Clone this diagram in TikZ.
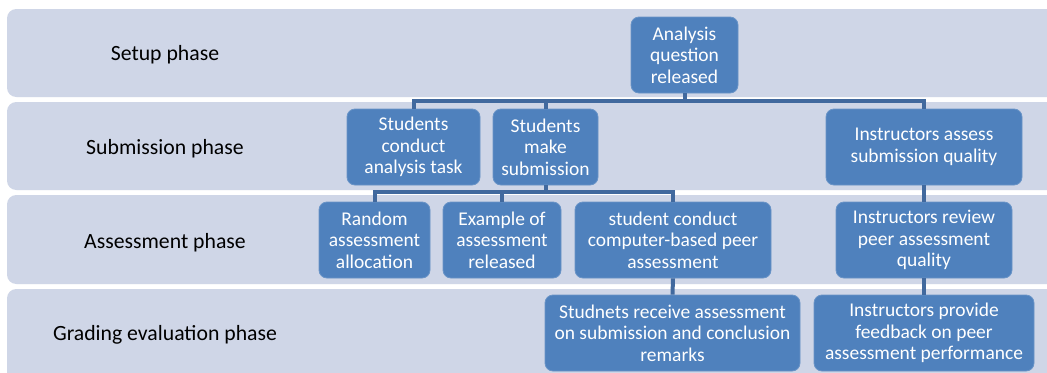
\documentclass[tikz,border=0pt]{standalone}
\usepackage{fontspec}
\setmainfont{Carlito}
\definecolor{bandc}{HTML}{CFD6E7}
\definecolor{boxc}{HTML}{4F81BD}
\definecolor{linec}{HTML}{41699E}
\tikzset{
  band/.style={fill=bandc, draw=none, rounded corners=7},
  phase/.style={font=\fontsize{16.3}{19}\selectfont, text=black},
  stepbox/.style={fill=boxc, draw=boxc!85!white, line width=0.6pt, rounded corners=6, text=white,
     font=\fontsize{14.6}{16.1}\selectfont, align=center, inner sep=0pt},
  conn/.style={draw=linec, line width=3pt}
}
\begin{document}
\begin{tikzpicture}[x=0.75pt,y=-0.75pt]
\useasboundingbox (0,0) rectangle (1047,372);
\fill[white] (0,0) rectangle (1047,372);
\begin{scope}
\clip (0,0) rectangle (1047,372);
\fill[band] (7,9) rectangle (1070,97);
\fill[band] (7,102) rectangle (1070,190);
\fill[band] (7,195) rectangle (1070,284);
\fill[band] (7,289) rectangle (1070,400);
\end{scope}
\node[phase] (p1) at (165,55) {Setup phase};
\node[phase] (p2) at (165,149) {Submission phase};
\node[phase] (p3) at (165,243) {Assessment phase};
\node[phase] (p4) at (165,335) {Grading evaluation phase};

% coordinates for connector junctions
\coordinate (j1) at (684.5,101);
\coordinate (j2) at (545.5,192);

\node[stepbox, minimum width=80.25pt, minimum height=57pt] (aq) at (684.5,55) {Analysis\\question\\released};
\node[stepbox, minimum width=99.75pt, minimum height=57pt] (sc) at (413.5,147) {Students\\conduct\\analysis task};
\node[stepbox, minimum width=78.75pt, minimum height=57pt] (sm) at (545.5,147) {Students\\make\\submission};
\node[stepbox, minimum width=147pt, minimum height=57pt] (ia) at (924,147) {Instructors assess\\submission quality};
\node[stepbox, minimum width=83.25pt, minimum height=57pt] (ra) at (374.5,240) {Random\\assessment\\allocation};
\node[stepbox, minimum width=88.5pt, minimum height=57pt] (ex) at (502,240) {Example of\\assessment\\released};
\node[stepbox, minimum width=147pt, minimum height=57pt] (pc) at (673,240) {student conduct\\computer-based peer\\assessment};
\node[stepbox, minimum width=132pt, minimum height=57pt] (ir) at (924,240) {Instructors review\\peer assessment\\quality};
\node[stepbox, minimum width=191.25pt, minimum height=57pt] (sr) at (672.5,333) {Studnets receive assessment\\on submission and conclusion\\remarks};
\node[stepbox, minimum width=165pt, minimum height=57pt] (ip) at (924,333) {Instructors provide\\feedback on peer\\assessment performance};

\draw[conn] (aq.south) -- (j1);
\draw[conn] (sc.north) |- (j1);
\draw[conn] (sm.north) -- (sm.north |- j1);
\draw[conn] (ia.north) |- (j1);
\draw[conn] (sm.south) -- (j2);
\draw[conn] (ra.north) |- (j2);
\draw[conn] (ex.north) -- (ex.north |- j2);
\draw[conn] (pc.north) |- (j2);
\draw[conn] (pc.south) -- (sr.north);
\draw[conn] (ia.south) -- (ir.north);
\draw[conn] (ir.south) -- (ip.north);
\end{tikzpicture}
\end{document}
